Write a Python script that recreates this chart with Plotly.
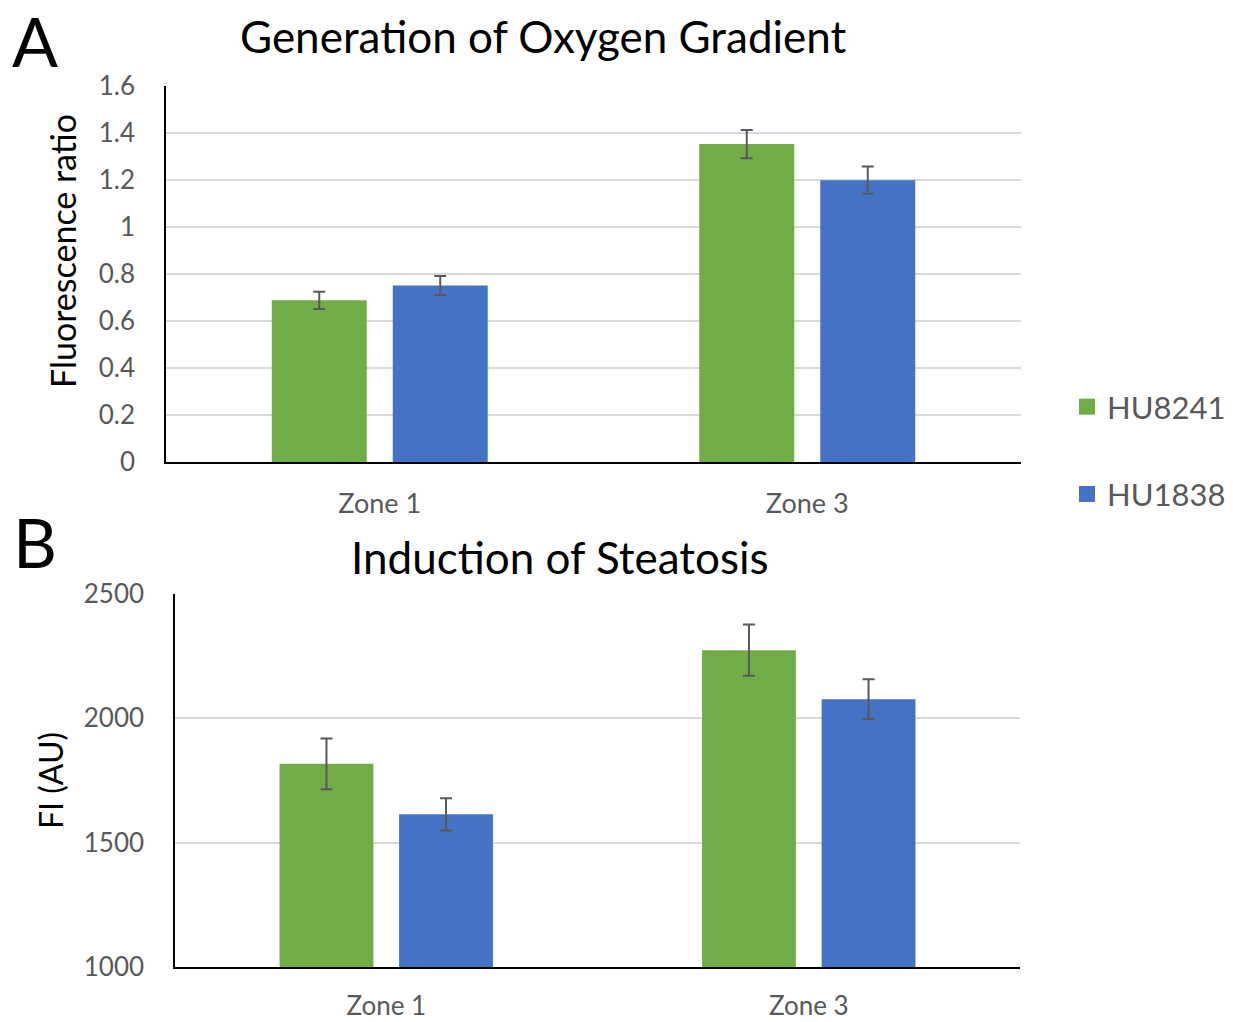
import plotly.graph_objects as go

zones = ["Zone 1", "Zone 3"]
series_names = ["HU8241", "HU1838"]
colors = ["#70AD47", "#4472C4"]

# Panel A: Generation of Oxygen Gradient (fluorescence ratio)
a_hu8241 = [0.688, 1.353]
a_hu8241_err = [0.037, 0.060]
a_hu1838 = [0.751, 1.199]
a_hu1838_err = [0.040, 0.058]

# Panel B: Induction of Steatosis (FI, AU)
b_hu8241 = [1817, 2274]
b_hu8241_err = [102, 103]
b_hu1838 = [1614, 2077]
b_hu1838_err = [65, 80]

W, H = 1233, 1022
FONT = "Lato, 'Open Sans', sans-serif"
GREY = "#595959"

fig = go.Figure()

def add_bars(vals, errs, name, color, xa, ya):
    fig.add_trace(go.Bar(
        x=zones, y=vals, name=name, marker=dict(color=color, line=dict(width=0)),
        error_y=dict(type="data", array=errs, visible=True, color=GREY, thickness=2, width=6),
        xaxis=xa, yaxis=ya, showlegend=False, legendgroup=name,
    ))

add_bars(a_hu8241, a_hu8241_err, series_names[0], colors[0], "x", "y")
add_bars(a_hu1838, a_hu1838_err, series_names[1], colors[1], "x", "y")
add_bars(b_hu8241, b_hu8241_err, series_names[0], colors[0], "x2", "y2")
add_bars(b_hu1838, b_hu1838_err, series_names[1], colors[1], "x2", "y2")

# legend entries (square swatches)
for name, color in zip(series_names, colors):
    fig.add_trace(go.Scatter(x=[None], y=[None], mode="markers", name=name,
                             marker=dict(symbol="square", size=21, color=color),
                             legendgroup=name, showlegend=True, xaxis="x", yaxis="y"))

def px_x(p): return p / W
def px_y(p): return 1 - p / H

axis_common = dict(showline=True, linecolor="black", linewidth=1.5, ticks="", automargin=False)

fig.update_layout(
    width=W, height=H, margin=dict(l=0, r=0, t=0, b=0, autoexpand=False),
    paper_bgcolor="white", plot_bgcolor="white",
    barmode="group", bargap=0.434, bargroupgap=0.215,
    font=dict(family=FONT),
    xaxis=dict(domain=[px_x(166), px_x(1021)], anchor="y", type="category",
               ticklabelstandoff=17, tickfont=dict(family=FONT, size=27, color=GREY), **axis_common),
    yaxis=dict(domain=[px_y(462), px_y(86)], anchor="x", range=[0, 1.6],
               tickvals=[0, 0.2, 0.4, 0.6, 0.8, 1.0, 1.2, 1.4, 1.6],
               ticktext=["0", "0.2", "0.4", "0.6", "0.8", "1", "1.2", "1.4", "1.6"],
               showgrid=True, gridcolor="#D9D9D9", gridwidth=1.5, zeroline=False,
               ticklabelstandoff=24, tickfont=dict(family=FONT, size=26, color=GREY),
               **axis_common),
    xaxis2=dict(domain=[px_x(175), px_x(1020)], anchor="y2", type="category",
                ticklabelstandoff=15, tickfont=dict(family=FONT, size=26, color=GREY), **axis_common),
    yaxis2=dict(domain=[px_y(967), px_y(594)], anchor="x2", range=[1000, 2500], dtick=500,
                showgrid=True, gridcolor="#D9D9D9", gridwidth=1.5, zeroline=False,
                ticklabelstandoff=24, tickfont=dict(family=FONT, size=26, color=GREY),
                title=dict(text="FI (AU)", font=dict(family=FONT, size=32, color="black"), standoff=11),
                **axis_common),
    legend=dict(x=px_x(1067), y=px_y(380), xanchor="left", yanchor="top",
                font=dict(family=FONT, size=31, color=GREY), tracegroupgap=44,
                itemwidth=30, bgcolor="rgba(0,0,0,0)"),
)

def ann(text, x, y, size, angle=0):
    fig.add_annotation(text=text, x=px_x(x), y=px_y(y), xref="paper", yref="paper",
                       xanchor="center", yanchor="middle", showarrow=False, textangle=angle,
                       font=dict(family=FONT, size=size, color="black"))

ann("Generation of Oxygen Gradient", 543, 36, 44)
ann("Induction of Steatosis", 560, 557, 44)
ann("Fluorescence ratio", 62, 251, 34, -90)
ann("A", 35, 40, 68)
ann("B", 35, 541, 68)

fig.write_html("out.html", config={"displayModeBar": False},
               post_script="document.body.style.margin='0';document.body.style.padding='0';")
